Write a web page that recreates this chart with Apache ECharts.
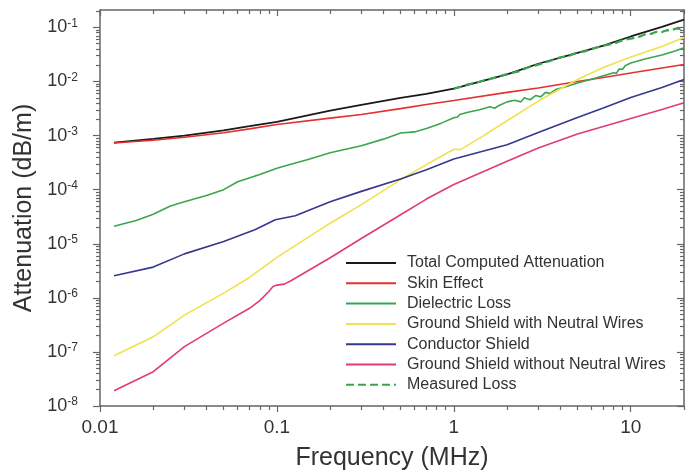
<!DOCTYPE html>
<html><head><meta charset="utf-8">
<script src="https://cdn.jsdelivr.net/npm/echarts@6/dist/echarts.min.js"></script>
<style>html,body{margin:0;padding:0;background:#fff}#c{width:696px;height:473px}</style>
</head><body><div id="c"></div><script>
// ---------- data ----------
const seriesNames = ['Total Computed Attenuation','Skin Effect','Dielectric Loss','Ground Shield with Neutral Wires','Conductor Shield','Ground Shield without Neutral Wires','Measured Loss'];

const freqTotal = [0.012,0.02,0.03,0.05,0.07,0.1,0.2,0.3,0.5,0.7,1,2,3,5,7,10,15,20];
const totalComputed = [7.4e-4,8.7e-4,1.0e-3,1.25e-3,1.49e-3,1.8e-3,2.9e-3,3.7e-3,5.0e-3,5.9e-3,7.4e-3,1.36e-2,2.13e-2,3.4e-2,4.6e-2,6.8e-2,0.102,0.14];

const freqSkin = [0.012,0.02,0.03,0.05,0.07,0.1,0.2,0.3,0.5,0.7,1,2,3,5,7,10,15,20];
const skinEffect = [7.3e-4,8.2e-4,9.3e-4,1.13e-3,1.33e-3,1.6e-3,2.1e-3,2.45e-3,3.15e-3,3.75e-3,4.45e-3,6.3e-3,7.6e-3,1.0e-2,1.19e-2,1.44e-2,1.78e-2,2.06e-2];

const freqDiel = [0.012,0.016,0.02,0.025,0.03,0.04,0.05,0.06,0.08,0.1,0.12,0.15,0.2,0.3,0.4,0.5,0.6,0.7,0.85,1.0,1.05,1.08,1.2,1.4,1.6,1.7,1.8,2.0,2.2,2.4,2.5,2.7,2.9,3.1,3.3,3.5,3.8,4.2,5.0,6.0,7.0,8.0,8.3,8.6,9.0,9.3,10,12,15,18,20];
const dielectricLoss = [2.1e-5,2.7e-5,3.5e-5,5.0e-5,6.0e-5,7.8e-5,1.0e-4,1.4e-4,1.9e-4,2.5e-4,2.95e-4,3.6e-4,4.8e-4,6.5e-4,8.6e-4,1.12e-3,1.17e-3,1.35e-3,1.7e-3,2.13e-3,2.2e-3,2.45e-3,2.7e-3,3.0e-3,3.4e-3,3.2e-3,3.6e-3,4.2e-3,4.5e-3,4.2e-3,5.0e-3,4.6e-3,5.5e-3,5.2e-3,6.3e-3,6.0e-3,7.2e-3,7.8e-3,9.4e-3,1.1e-2,1.28e-2,1.45e-2,1.42e-2,1.7e-2,1.68e-2,1.95e-2,2.2e-2,2.6e-2,3.1e-2,3.7e-2,4.2e-2];

const freqGsWith = [0.012,0.02,0.03,0.05,0.07,0.1,0.2,0.3,0.5,0.7,1.0,1.09,1.4,2,3,5,7,10,15,20];
const groundShieldWith = [8.5e-8,1.9e-7,4.8e-7,1.22e-6,2.38e-6,5.6e-6,2.4e-5,5.3e-5,1.53e-4,2.9e-4,5.6e-4,5.5e-4,9.0e-4,1.88e-3,4.35e-3,1.09e-2,1.82e-2,2.85e-2,4.45e-2,6.5e-2];

const freqCond = [0.012,0.02,0.03,0.05,0.075,0.098,0.127,0.2,0.3,0.5,0.7,1,2,3,5,7,10,15,20];
const conductorShield = [2.56e-6,3.7e-6,6.5e-6,1.1e-5,1.82e-5,2.78e-5,3.3e-5,6.0e-5,9.3e-5,1.58e-4,2.34e-4,3.7e-4,6.8e-4,1.14e-3,2.16e-3,3.23e-3,5.06e-3,7.75e-3,1.09e-2];

const freqGsWithout = [0.012,0.02,0.03,0.05,0.07,0.08,0.09,0.095,0.1,0.11,0.12,0.2,0.3,0.5,0.7,1,2,3,5,7,10,15,20];
const groundShieldWithout = [1.92e-8,4.3e-8,1.25e-7,3.4e-7,6.4e-7,8.9e-7,1.31e-6,1.62e-6,1.72e-6,1.79e-6,2.07e-6,5.5e-6,1.25e-5,3.44e-5,6.7e-5,1.25e-4,3.34e-4,5.9e-4,1.07e-3,1.47e-3,2.07e-3,3.03e-3,4.04e-3];

const freqMeasured = [1.0,1.1,1.2,1.3,1.5,1.7,2.0,2.3,2.6,3.0,3.5,4.0,4.5,5.0,5.5,6.0,7.0,8.0,9.0,10,11,12,13,14,15,16,17,18,19,20];
const measuredLoss = [7.4e-3,8.0e-3,8.9e-3,9.3e-3,1.05e-2,1.18e-2,1.38e-2,1.52e-2,1.8e-2,2.05e-2,2.4e-2,2.8e-2,3.0e-2,3.45e-2,3.6e-2,4.0e-2,4.6e-2,5.0e-2,5.8e-2,6.2e-2,6.6e-2,7.4e-2,7.6e-2,8.3e-2,8.2e-2,8.9e-2,8.8e-2,9.6e-2,9.4e-2,0.1];

const xTickValues = [0.01,0.1,1,10];
const xTickLabels = ['0.01','0.1','1','10'];
const xMinorTicks = [0.02,0.03,0.04,0.05,0.06,0.07,0.08,0.09,0.2,0.3,0.4,0.5,0.6,0.7,0.8,0.9,2,3,4,5,6,7,8,9,20];
const yTickExponents = [-8,-7,-6,-5,-4,-3,-2,-1];
const yTickValues = [1e-8,1e-7,1e-6,1e-5,1e-4,1e-3,1e-2,1e-1];
const yMinorTicks = [];
[1e-8,1e-7,1e-6,1e-5,1e-4,1e-3,1e-2,1e-1].forEach(function(d){[2,3,4,5,6,7,8,9].forEach(function(m){ if (d*m <= 0.21) yMinorTicks.push(+(d*m).toPrecision(3)); });});

// ---------- chart ----------
const colors = ['#1a1a1a','#e53030','#3aa650','#f0e24c','#36388f','#e03a78','#3aa650'];
const pairs = (xs, ys) => xs.map((x, i) => [x, ys[i]]);
const allData = [
  pairs(freqTotal, totalComputed),
  pairs(freqSkin, skinEffect),
  pairs(freqDiel, dielectricLoss),
  pairs(freqGsWith, groundShieldWith),
  pairs(freqCond, conductorShield),
  pairs(freqGsWithout, groundShieldWithout),
  pairs(freqMeasured, measuredLoss)
];

const axisColor = '#666';
const XMIN = 0.01, XMAX = 20, YMIN = 1e-8, YMAX = 0.21;
function xAx(pos, minor, inside, extra) {
  return Object.assign({
    type: 'log', min: XMIN, max: XMAX, position: pos, logBase: 10,
    axisLine: { show: !minor, onZero: false, lineStyle: { color: axisColor, width: 1.5 } },
    axisTick: { show: true, inside: inside, length: minor ? 4 : 6, customValues: minor ? xMinorTicks : xTickValues, lineStyle: { color: axisColor, width: 1.2 } },
    axisLabel: { show: false },
    splitLine: { show: false }, minorTick: { show: false }, minorSplitLine: { show: false }
  }, extra || {});
}
function yAx(pos, minor, inside, extra) {
  return Object.assign({
    type: 'log', min: YMIN, max: YMAX, position: pos, logBase: 10,
    axisLine: { show: !minor, onZero: false, lineStyle: { color: axisColor, width: 1.5 } },
    axisTick: { show: true, inside: inside, length: minor ? 4 : 7, customValues: minor ? yMinorTicks : yTickValues, lineStyle: { color: axisColor, width: 1.2 } },
    axisLabel: { show: false },
    splitLine: { show: false }, minorTick: { show: false }, minorSplitLine: { show: false }
  }, extra || {});
}

const chart = echarts.init(document.getElementById('c'), null, { renderer: 'canvas' });
chart.setOption({
  animation: false,
  backgroundColor: '#fff',
  grid: { left: 100, right: 12, top: 10, bottom: 67, containLabel: false, outerBoundsMode: 'none' },
  xAxis: [
    xAx('bottom', false, false, {
      name: 'Frequency (MHz)', nameLocation: 'middle', nameGap: 40,
      nameTextStyle: { fontSize: 25, color: '#333', fontFamily: 'Liberation Sans' },
      axisLabel: { show: true, customValues: xTickValues, margin: 12, fontSize: 19, color: '#333', fontFamily: 'Liberation Sans',
        formatter: function (v) { const i = xTickValues.findIndex(t => Math.abs(Math.log10(t) - Math.log10(v)) < 1e-6); return i >= 0 ? xTickLabels[i] : ''; } }
    }),
    xAx('bottom', true, false),
    xAx('top', false, true),
    xAx('top', true, true)
  ],
  yAxis: [
    yAx('left', false, false, {
      name: 'Attenuation (dB/m)', nameLocation: 'middle', nameGap: 57, nameRotate: 90,
      nameTextStyle: { fontSize: 25, color: '#333', fontFamily: 'Liberation Sans' },
      axisLabel: { show: true, customValues: yTickValues, margin: 22, color: '#333', fontFamily: 'Liberation Sans',
        formatter: function (v) { const e = yTickExponents[Math.round(Math.log10(v)) + 8]; return '{b|10}{s|' + e + '}'; },
        rich: { b: { fontSize: 18, lineHeight: 20, color: '#333', fontFamily: 'Liberation Sans' }, s: { fontSize: 12, lineHeight: 14, verticalAlign: 'top', color: '#333', fontFamily: 'Liberation Sans' } } }
    }),
    yAx('left', true, false),
    yAx('right', false, true),
    yAx('right', true, true)
  ],
  legend: {
    orient: 'vertical', left: 340, top: 250, itemWidth: 50, itemHeight: 14, itemGap: 4.3,
    itemStyle: { opacity: 0 },
    textStyle: { fontSize: 16, lineHeight: 14, color: '#333', fontFamily: 'Liberation Sans', padding: [0, 0, 0, 6] },
    data: seriesNames
  },
  series: seriesNames.map((n, i) => ({
    name: n, type: 'line', xAxisIndex: 0, yAxisIndex: 0,
    data: allData[i], symbol: 'none', showSymbol: false, smooth: false,
    lineStyle: { color: colors[i], width: i === 6 ? 2.2 : (i === 0 ? 1.8 : 1.6), type: i === 6 ? [8, 4] : 'solid' },
    itemStyle: { color: colors[i] },
    z: i === 6 ? 5 : 2
  }))
});
</script></body></html>
